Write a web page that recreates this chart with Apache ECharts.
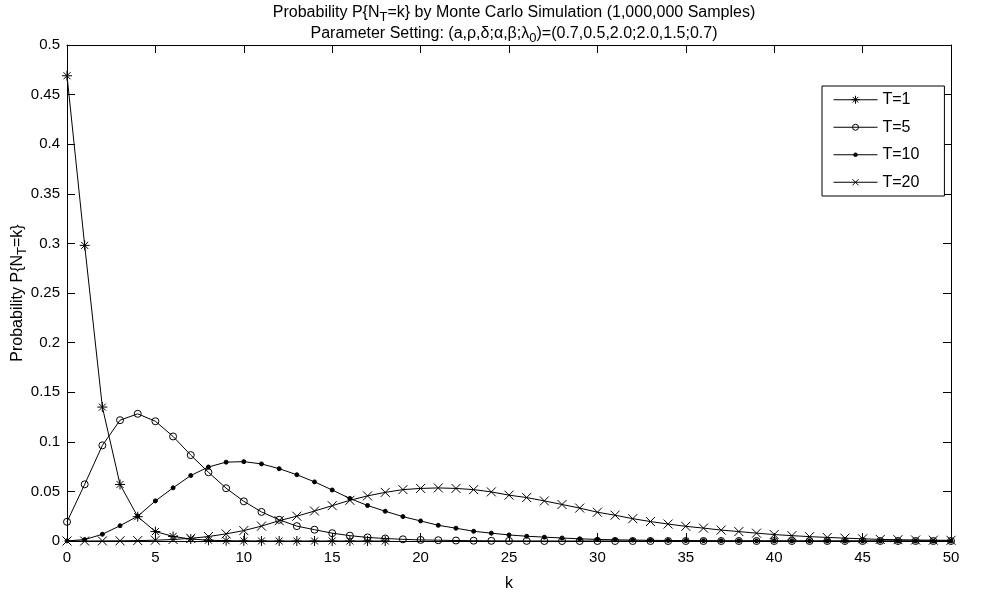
<!DOCTYPE html>
<html>
<head>
<meta charset="utf-8">
<script src="https://cdn.jsdelivr.net/npm/echarts@6/dist/echarts.min.js"></script>
<style>
  html, body { margin: 0; padding: 0; background: #fff; }
  #chart { width: 994px; height: 600px; }
</style>
</head>
<body>
<div id="chart"></div>
<script>
// Number of events k on the horizontal axis
const kValues = [0, 1, 2, 3, 4, 5, 6, 7, 8, 9, 10, 11, 12, 13, 14, 15, 16, 17, 18, 19, 20,
  21, 22, 23, 24, 25, 26, 27, 28, 29, 30, 31, 32, 33, 34, 35, 36, 37, 38, 39, 40,
  41, 42, 43, 44, 45, 46, 47, 48, 49, 50];

// Estimated probabilities P{N_T = k} for each horizon T
const pT1 = [0.469, 0.298, 0.135, 0.057, 0.0245, 0.0095, 0.0046, 0.002, 0.0008, 0.0003,
  0.0001, 0.00005, 0, 0, 0, 0, 0, 0, 0];

const pT5 = [0.0193, 0.0571, 0.0964, 0.1218, 0.1282, 0.1207, 0.1054, 0.0866, 0.0693, 0.0532,
  0.0400, 0.0293, 0.0214, 0.0150, 0.0114, 0.0079, 0.0054, 0.0036, 0.0025, 0.0017,
  0.0011, 0.0008, 0.0005, 0.0003, 0.0002, 0.0001, 0.0001, 0, 0, 0,
  0, 0, 0, 0, 0, 0, 0, 0, 0, 0,
  0, 0, 0, 0, 0, 0, 0, 0, 0, 0, 0];

const pT10 = [0.0001, 0.0014, 0.0068, 0.0154, 0.0250, 0.0404, 0.0536, 0.0660, 0.0746, 0.0795,
  0.0800, 0.0777, 0.0729, 0.0668, 0.0596, 0.0514, 0.0429, 0.0358, 0.0300, 0.0246,
  0.0202, 0.0158, 0.0129, 0.0098, 0.0079, 0.0061, 0.0048, 0.0039, 0.0030, 0.0022,
  0.0016, 0.0012, 0.0009, 0.0007, 0.0005, 0.0004, 0.0003, 0.0002, 0.0002, 0.0001,
  0.0001, 0.0001, 0, 0, 0, 0, 0, 0, 0, 0, 0];

const pT20 = [0, 0, 0.0001, 0.0002, 0.0004, 0.0008, 0.0015, 0.0027, 0.0045, 0.0072,
  0.0105, 0.0150, 0.0205, 0.0250, 0.0302, 0.0356, 0.0410, 0.0455, 0.0490, 0.0518,
  0.0530, 0.0535, 0.0530, 0.0518, 0.0495, 0.0462, 0.0438, 0.0404, 0.0368, 0.0332,
  0.0290, 0.0260, 0.0225, 0.0196, 0.0171, 0.0148, 0.0130, 0.0110, 0.0095, 0.0079,
  0.0065, 0.0054, 0.0044, 0.0036, 0.0029, 0.0022, 0.0016, 0.0013, 0.0010, 0.0008, 0.0007];

const seriesNames = ['T=1', 'T=5', 'T=10', 'T=20'];

const FONT = '"Liberation Sans", Arial, Helvetica, sans-serif';

// Marker shapes drawn as stroked paths
const STAR = 'path://M5,0L5,10M0,5L10,5M1.5,1.5L8.5,8.5M1.5,8.5L8.5,1.5';
const CROSS = 'path://M0,0L10,10M0,10L10,0';

// Legend keys: a short line with the series marker in its middle (44 x 8 box)
const KEY_BOX = 'M22,0M22,8';
const legendIcons = [
  'path://M0,4L44,4M22,0L22,8M18,4L26,4M19.2,1.2L24.8,6.8M19.2,6.8L24.8,1.2' + KEY_BOX,
  'path://M0,4L44,4M25,4A3,3,0,1,1,19,4A3,3,0,1,1,25,4' + KEY_BOX,
  'path://M0,4L44,4M23.8,4A1.8,1.8,0,1,1,20.2,4A1.8,1.8,0,1,1,23.8,4' + KEY_BOX,
  'path://M0,4L44,4M19,1L25,7M19,7L25,1' + KEY_BOX
];

function pairs(values) {
  return values.map((v, i) => [kValues[i], v]);
}

const subRich = {
  s: { fontSize: 13, fontFamily: FONT, color: '#000', padding: [9, 0, 0, 0] }
};

function lineSeries(name, values, symbol, size, filled) {
  return {
    name: name,
    type: 'line',
    xAxisIndex: 0,
    yAxisIndex: 0,
    data: pairs(values),
    symbol: symbol,
    symbolSize: size,
    showAllSymbol: true,
    lineStyle: { color: '#000', width: 1 },
    itemStyle: {
      color: filled ? '#000' : 'transparent',
      borderColor: '#000',
      borderWidth: 1
    },
    emphasis: { disabled: true },
    animation: false
  };
}

const chart = echarts.init(document.getElementById('chart'), null, { renderer: 'canvas' });

const tickStyle = { show: true, inside: true, length: 8, lineStyle: { color: '#000', width: 1 } };
const axisLineStyle = { show: true, onZero: false, lineStyle: { color: '#000', width: 1 } };
const labelStyle = { color: '#000', fontSize: 15, fontFamily: FONT };

chart.setOption({
  backgroundColor: '#fff',
  animation: false,
  title: [
    {
      text: 'Probability P{N{s|T}=k} by Monte Carlo Simulation (1,000,000 Samples)',
      left: 509,
      top: -3,
      textAlign: 'center',
      textStyle: {
        color: '#000', fontSize: 16, fontWeight: 'normal', fontFamily: FONT,
        rich: subRich
      }
    },
    {
      text: 'Parameter Setting: (a,ρ,δ;α,β;λ{s|0})=(0.7,0.5,2.0;2.0,1.5;0.7)',
      left: 509,
      top: 18,
      textAlign: 'center',
      textStyle: {
        color: '#000', fontSize: 16, fontWeight: 'normal', fontFamily: FONT,
        rich: subRich
      }
    }
  ],
  legend: {
    data: seriesNames.map((name, i) => ({
      name: name,
      icon: legendIcons[i],
      itemStyle: {
        color: i === 2 ? '#000' : 'transparent',
        borderColor: '#000',
        borderWidth: 1
      }
    })),
    orient: 'vertical',
    left: 822,
    top: 86,
    itemWidth: 44,
    itemHeight: 8,
    itemGap: 10,
    padding: [5, 25, 5, 11],
    borderColor: '#000',
    borderWidth: 1,
    backgroundColor: '#fff',
    selectedMode: false,
    textStyle: { color: '#000', fontSize: 16, fontFamily: FONT, lineHeight: 17.5 }
  },
  grid: {
    left: 67, right: 43, top: 45, bottom: 59,
    containLabel: false,
    outerBoundsMode: 'none'
  },
  xAxis: [
    {
      type: 'value',
      min: 0, max: 50, interval: 5,
      name: 'k',
      nameLocation: 'middle',
      nameGap: 35,
      nameMoveOverlap: false,
      nameTextStyle: { color: '#000', fontSize: 16, fontFamily: FONT },
      axisLine: axisLineStyle,
      axisTick: tickStyle,
      axisLabel: Object.assign({ margin: 9 }, labelStyle),
      splitLine: { show: false }
    },
    {
      type: 'value',
      position: 'top',
      min: 0, max: 50, interval: 5,
      axisLine: axisLineStyle,
      axisTick: tickStyle,
      axisLabel: { show: false },
      splitLine: { show: false }
    }
  ],
  yAxis: [
    {
      type: 'value',
      min: 0, max: 0.5, interval: 0.05,
      name: 'Probability P{N{s|T}=k}',
      nameLocation: 'middle',
      nameGap: 38,
      nameRotate: 90,
      nameMoveOverlap: false,
      nameTextStyle: { color: '#000', fontSize: 16, fontFamily: FONT, rich: subRich },
      axisLine: axisLineStyle,
      axisTick: tickStyle,
      axisLabel: Object.assign({
        margin: 7,
        formatter: v => String(parseFloat(v.toFixed(2)))
      }, labelStyle),
      splitLine: { show: false }
    },
    {
      type: 'value',
      position: 'right',
      min: 0, max: 0.5, interval: 0.05,
      axisLine: axisLineStyle,
      axisTick: tickStyle,
      axisLabel: { show: false },
      splitLine: { show: false }
    }
  ],
  series: [
    lineSeries(seriesNames[0], pT1, STAR, 10, false),
    lineSeries(seriesNames[1], pT5, 'circle', 7, false),
    lineSeries(seriesNames[2], pT10, 'circle', 4, true),
    lineSeries(seriesNames[3], pT20, CROSS, 9, false)
  ]
});
</script>
</body>
</html>
